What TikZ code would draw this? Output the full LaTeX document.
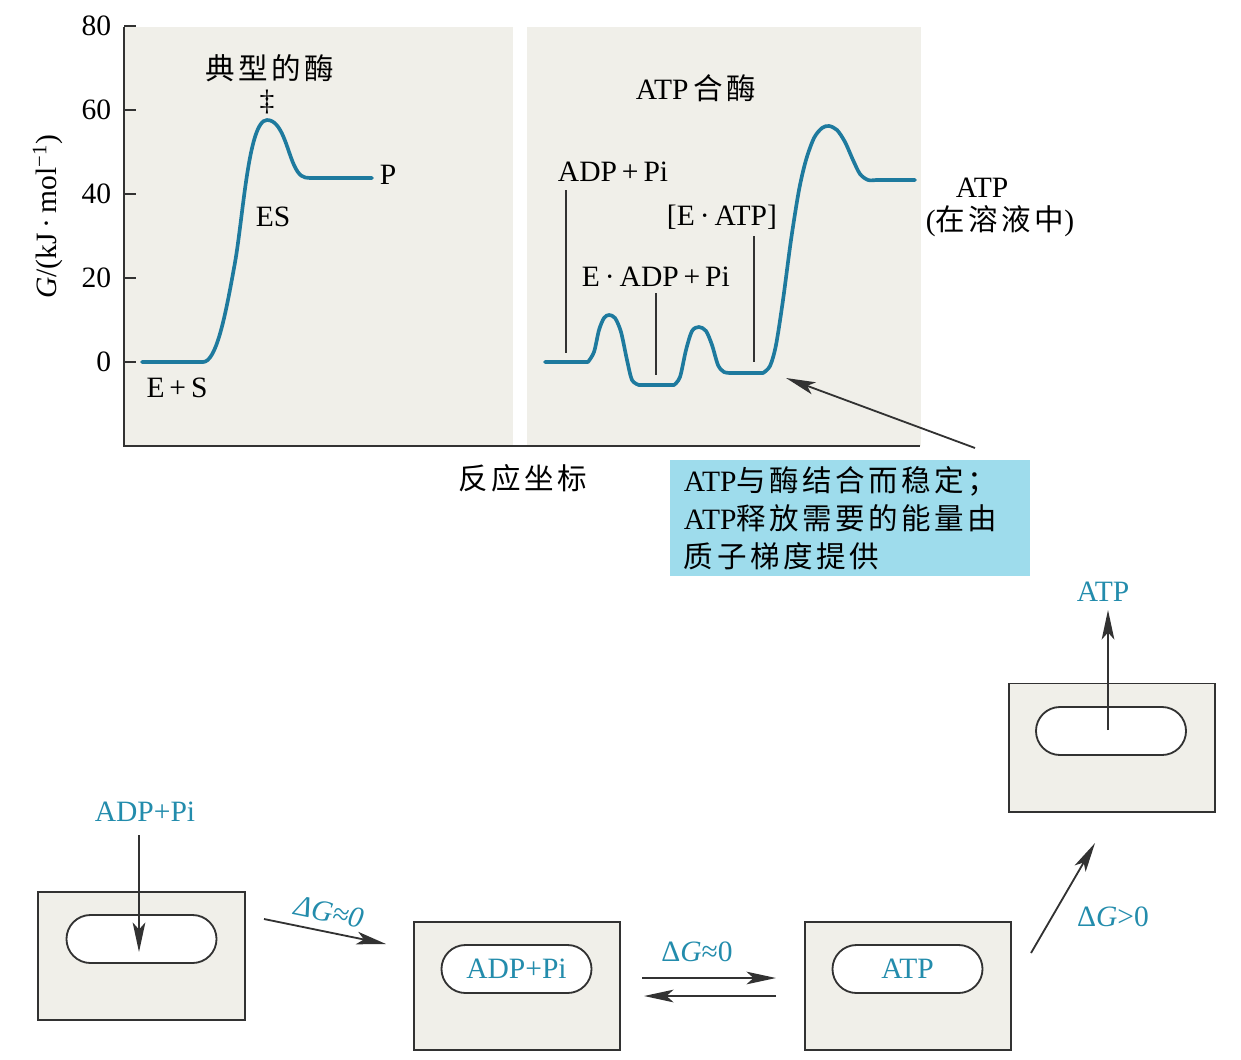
\documentclass[tikz,border=0pt]{standalone}
\usepackage{fontspec}
\setmainfont{Liberation Serif}
\newfontfamily\cjk[LetterSpace=12]{Noto Sans CJK SC}
\usetikzlibrary{arrows.meta, positioning}

\definecolor{curveblue}{RGB}{30,122,158}
\definecolor{tealtext}{RGB}{35,140,172}
\definecolor{panelgray}{RGB}{240,239,233}
\definecolor{notecyan}{RGB}{158,220,236}
\definecolor{darkline}{RGB}{50,50,50}

\begin{document}
\begin{tikzpicture}[
    x=0.025cm, y=-0.025cm,
    font=\fontsize{21}{25}\selectfont,
    panel/.style={fill=panelgray, draw=none},
    curve/.style={draw=curveblue, line width=2.6pt, line join=round, line cap=round},
    lead/.style={draw=darkline, line width=0.8pt},
    pocket/.style={rectangle, draw=darkline, line width=1.3pt, fill=white, rounded corners=0.6cm, minimum width=3.75cm, minimum height=1.2cm, inner sep=0pt},
    enzyme/.style={rectangle, draw=darkline, line width=1.4pt, fill=panelgray, minimum width=5.15cm, minimum height=3.2cm},
    teallbl/.style={text=tealtext},
    arrow/.style={-{Stealth[length=21pt, width=9pt, inset=5pt]}, line width=1.3pt, draw=darkline}
]
\useasboundingbox (0,0) rectangle (1241,1059);

\fill[panel] (125,27) rectangle (513,446);
\fill[panel] (527,27) rectangle (921,446);

\draw[line width=1.2pt, darkline] (124,27) -- (124,446) -- (920,446);
\foreach \v in {0,20,40,60,80} {
    \draw[line width=1pt, darkline] (124,{362-4.2*\v}) -- (136,{362-4.2*\v});
    \node[anchor=east] at (116,{362-4.2*\v}) {\v};
}
\node[rotate=90] (ylab) at (48,217) {\textit{G}/(kJ\,·\,mol\textsuperscript{−1})};
\node (xlab) at (523,478) {\cjk 反应坐标};

\draw[curve] (142,362) -- (203,362) .. controls (216,362) and (225,318) .. (234,268) .. controls (243,222) and (248,120) .. (267,120) .. controls (282,120) and (287,150) .. (294,165) .. controls (299,176) and (303,178) .. (310,178) -- (372,178);
\node (typ) at (270,68) {\cjk 典型的酶};
\node (ts) at (267,102) {‡};
\node (es) at (273,217) {ES};
\node (prod) at (388,175) {P};
\node (subs) at (177,388) {E\,+\,S};

\draw[curve] (545,362) -- (588,362) -- plot[smooth, tension=0.5] coordinates {(588,362) (594,352) (599,330) (604,318) (609,315) (615,318) (621,332) (627,360) (632,380) (639,385)} -- (674,385) -- plot[smooth, tension=0.5] coordinates {(674,385) (680,377) (686,350) (692,331) (699,327) (706,331) (712,345) (718,365) (724,372) (732,373)} -- (763,373) -- plot[smooth, tension=0.5] coordinates {(763,373) (770,366) (776,345) (783,300) (791,240) (799,190) (806,160) (814,138) (822,128) (829,126) (837,130) (845,142) (853,160) (860,174) (868,180) (876,180)} -- (915,180);
\node (synth) at (696,88) {ATP\,{\cjk 合酶}};
\node[anchor=west] (adp) at (553,172) {ADP\,+\,Pi};
\node[anchor=west] (eadp) at (577,277) {E\,·\,ADP\,+\,Pi};
\node[anchor=west] (eatp) at (662,217) {[E\,·\,ATP]};
\node (atpsol) at (982,188) {ATP};
\node (insol) at (1000,221) {({\cjk 在溶液中})};
\draw[lead] (566,190) -- (566,353);
\draw[lead] (656,293) -- (656,375);
\draw[lead] (754,236) -- (754,362);

\node[fill=notecyan, text width=8.3cm, align=left, inner xsep=0.35cm, inner ysep=0.17cm, font=\fontsize{21}{27}\selectfont] (note) at (850,518) {ATP{\cjk 与酶结合而稳定；}\\ATP{\cjk 释放需要的能量由}\\{\cjk 质子梯度提供}};
\coordinate (notetail) at (975,448);
\coordinate (foot) at (786,378);
\draw[arrow] (notetail) -- (foot);

\node[enzyme] (e1) at (141.5,956) {};
\node[pocket] (p1) at (141.5,939) {};
\node[teallbl] (in) at (145,812) {ADP+Pi};
\coordinate (intail) at (139,835);
\coordinate (inhead) at (139,952);
\draw[arrow] (intail) -- (inhead);

\node[enzyme] (e2) at (517,986) {};
\node[pocket, teallbl] (p2) at (516.5,969) {ADP+Pi};
\coordinate (d1a) at (264,919);
\coordinate (d1b) at (386,944);
\draw[arrow] (d1a) -- node[teallbl, sloped, above=3pt] {\textit{ΔG≈0}} (d1b);

\node[enzyme] (e3) at (908,986) {};
\node[pocket, teallbl] (p3) at (907.5,969) {ATP};
\coordinate (r1a) at (642,978);
\coordinate (r1b) at (776,978);
\coordinate (r2a) at (776,996);
\coordinate (r2b) at (644,996);
\draw[arrow] (r1a) -- (r1b);
\draw[arrow] (r2a) -- (r2b);
\node[teallbl] (dg2) at (697,952) {Δ\textit{G}≈0};

\node[enzyme] (e4) at (1112,747.5) {};
\node[pocket] (p4) at (1111,731) {};
\coordinate (d2a) at (1031,953);
\coordinate (d2b) at (1095,843);
\draw[arrow] (d2a) -- (d2b);
\node[teallbl] (dg3) at (1113,917) {Δ\textit{G}>0};
\coordinate (outtail) at (1108,730);
\coordinate (outhead) at (1108,610);
\draw[arrow] (outtail) -- (outhead);
\node[teallbl] (out) at (1103,592) {ATP};
\end{tikzpicture}
\end{document}
